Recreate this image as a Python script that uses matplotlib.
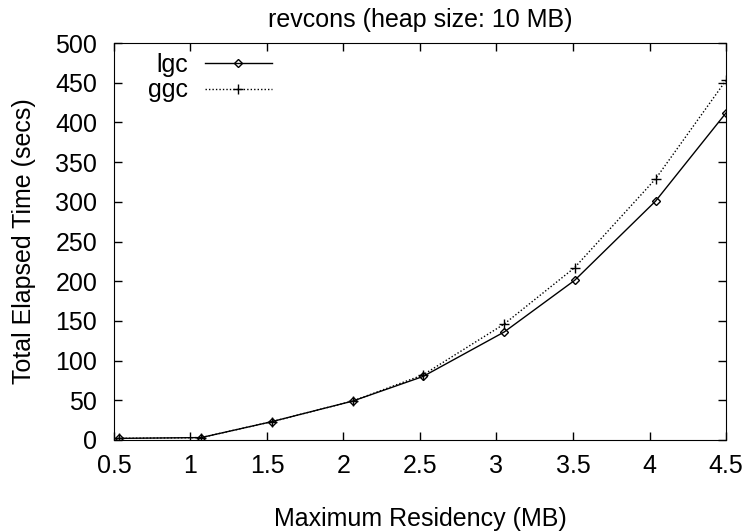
import matplotlib
matplotlib.use('Agg')
import matplotlib.pyplot as plt
from matplotlib.ticker import FormatStrFormatter

# Maximum residency (MB) and elapsed times (secs)
residency = [0.53, 1.07, 1.53, 2.06, 2.52, 3.05, 3.51, 4.04, 4.5]
lgc = [2, 3, 23, 49, 80, 136, 201, 301, 412]
ggc = [2, 3, 23, 49, 82, 146, 217, 329, 453]

plt.rcParams['font.family'] = ['Liberation Sans', 'DejaVu Sans']
plt.rcParams['font.size'] = 18

fig = plt.figure(figsize=(7.45, 5.32), dpi=100)
ax = fig.add_axes([0.153, 0.173, 0.8215, 0.746])

ax.plot(residency, lgc, color='black', linewidth=1.0, marker='D',
        markersize=4.5, markerfacecolor='none', markeredgewidth=1.0, label='lgc')
ax.plot(residency, ggc, color='black', linewidth=1.0, linestyle=(0, (1, 1.5)),
        marker='+', markersize=7, markeredgewidth=1.0, label='ggc')

ax.set_xlim(0.5, 4.5)
ax.set_ylim(0, 500)
ax.set_xticks([0.5, 1, 1.5, 2, 2.5, 3, 3.5, 4, 4.5])
ax.set_yticks(range(0, 501, 50))
ax.xaxis.set_major_formatter(FormatStrFormatter('%g'))
ax.tick_params(direction='in', length=6, width=1, top=True, right=True,
               labelsize=18)
ax.tick_params(axis='x', pad=10)
ax.tick_params(axis='y', pad=12)

ax.set_title('revcons (heap size: 10 MB)', fontsize=18, y=1.04, pad=0)
ax.set_xlabel('Maximum Residency (MB)', fontsize=18, labelpad=21)
ax.set_ylabel('Total Elapsed Time (secs)', fontsize=18, labelpad=14)

ax.legend(loc='upper left', markerfirst=False, frameon=False, numpoints=1,
          handlelength=2.7, handletextpad=0.65, labelspacing=0.05,
          borderaxespad=0.0, fontsize=18, bbox_to_anchor=(0.04, 1.0))

fig.savefig('out.png', dpi=100)
